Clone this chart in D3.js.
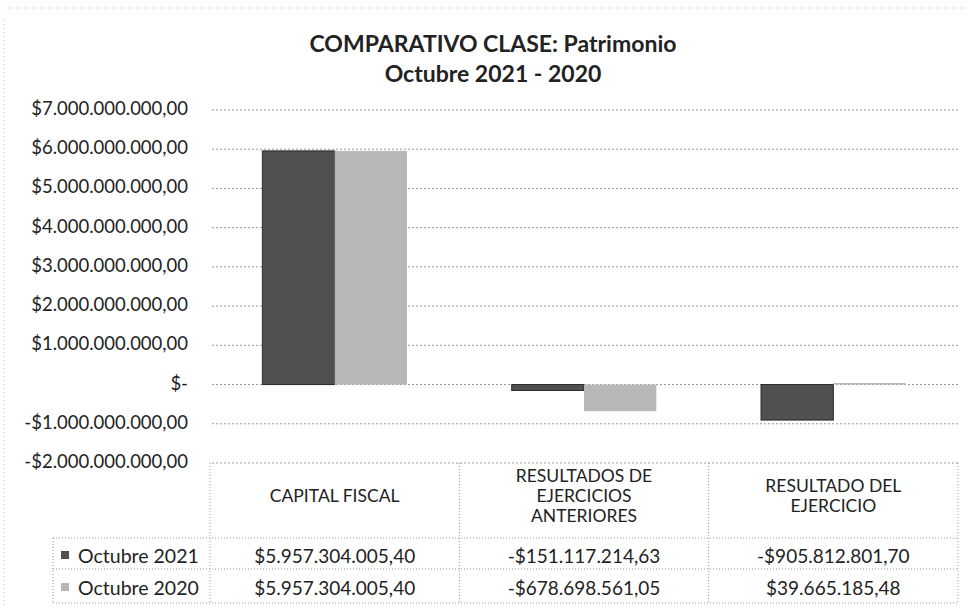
<!DOCTYPE html>
<html lang="es">
<head>
    <meta charset="UTF-8">
    <title>Comparativo clase: Patrimonio</title>
    <script src="https://d3js.org/d3.v7.min.js"></script>
    <style>
        body { margin: 0; background: #fff; }
        text { font-family: Lato, "Open Sans", sans-serif; fill: #222; }
    </style>
</head>
<body>
<svg id="chart"></svg>

<script>
    // Data
    let categories = ["CAPITAL FISCAL", "RESULTADOS DE\nEJERCICIOS\nANTERIORES", "RESULTADO DEL\nEJERCICIO"];
    let seriesNames = ["Octubre 2021", "Octubre 2020"];
    let values2021 = [5957304005.40, -151117214.63, -905812801.70];
    let values2020 = [5957304005.40, -678698561.05, 39665185.48];
    let yTicks = [7e9, 6e9, 5e9, 4e9, 3e9, 2e9, 1e9, 0, -1e9, -2e9];

    let width = 969, height = 610;
    let colours = ["#505050", "#b7b7b7"];
    let series = [values2021, values2020];

    let svg = d3.select("#chart")
        .attr("width", width)
        .attr("height", height);

    // Spanish style money format
    let es = d3.formatLocale({decimal: ",", thousands: ".", grouping: [3], currency: ["$", ""], minus: "-"});
    let money = es.format("$,.2f");
    function fmt(v) {
        return v === 0 ? "$-" : money(v);
    }

    // Scales
    let x0 = d3.scaleBand()
        .domain(categories)
        .range([210, 958])
        .paddingInner(0.42)
        .paddingOuter(0.21);

    let x1 = d3.scaleBand()
        .domain(d3.range(seriesNames.length))
        .range([0, x0.bandwidth()]);

    let y = d3.scaleLinear()
        .domain([-2e9, 7e9])
        .range([463, 110]);

    // Faint frame of the scan
    svg.append("line")
        .attr("x1", 4).attr("x2", 965).attr("y1", 8).attr("y2", 8)
        .attr("stroke", "#bbb").attr("stroke-dasharray", "1,3");
    svg.append("line")
        .attr("x1", 4).attr("x2", 4).attr("y1", 20).attr("y2", 605)
        .attr("stroke", "#bbb").attr("stroke-dasharray", "1,3");

    // Title
    svg.append("text")
        .attr("x", 493).attr("y", 43)
        .attr("text-anchor", "middle")
        .attr("dominant-baseline", "central")
        .style("font-size", "23px")
        .style("font-weight", "bold")
        .text("COMPARATIVO CLASE: Patrimonio");
    svg.append("text")
        .attr("x", 493).attr("y", 73)
        .attr("text-anchor", "middle")
        .attr("dominant-baseline", "central")
        .style("font-size", "23px")
        .style("font-weight", "bold")
        .text("Octubre 2021 - 2020");

    // Y axis with dotted grid lines
    let yAxis = d3.axisLeft(y)
        .tickValues(yTicks)
        .tickSize(0)
        .tickPadding(0)
        .tickFormat(fmt);

    let gy = svg.append("g")
        .attr("transform", "translate(188,-2)")
        .call(yAxis);
    gy.select(".domain").remove();
    gy.selectAll("text")
        .attr("font-family", null)
        .style("font-size", "18.5px")
        .attr("dy", "0.35em");

    svg.append("g")
        .selectAll("line")
        .data(yTicks)
        .enter().append("line")
        .attr("x1", 212).attr("x2", 960)
        .attr("y1", function (d) { return y(d); })
        .attr("y2", function (d) { return y(d); })
        .attr("stroke", "#999")
        .attr("stroke-width", 1)
        .attr("stroke-dasharray", "2,2");

    // Bars
    let groups = svg.append("g")
        .selectAll("g")
        .data(categories)
        .enter().append("g")
        .attr("transform", function (d) { return "translate(" + x0(d) + ",0)"; });

    groups.selectAll("rect")
        .data(function (d, i) {
            return series.map(function (s, j) { return {s: j, v: s[i]}; });
        })
        .enter().append("rect")
        .attr("x", function (d) { return x1(d.s); })
        .attr("width", x1.bandwidth())
        .attr("y", function (d) { return y(Math.max(0, d.v)); })
        .attr("height", function (d) { return Math.abs(y(d.v) - y(0)); })
        .attr("fill", function (d) { return colours[d.s]; })
        .attr("stroke", function (d) { return d.s === 0 ? "#2a2a2a" : "none"; })
        .attr("stroke-width", 1);

    // Data table under the chart
    let tableTop = 463, headBottom = 538, rowBottoms = [569, 603];
    let colEdges = [210].concat(categories.map(function (c) { return x0(c) - x0.step() * x0.paddingInner() / 2 + x0.step(); }));
    let table = svg.append("g")
        .attr("stroke", "#999")
        .attr("stroke-dasharray", "1,2");

    colEdges.forEach(function (cx) {
        table.append("line")
            .attr("x1", cx).attr("x2", cx)
            .attr("y1", tableTop).attr("y2", rowBottoms[1]);
    });
    table.append("line")
        .attr("x1", 53).attr("x2", 53)
        .attr("y1", headBottom).attr("y2", rowBottoms[1]);
    table.append("line")
        .attr("x1", 53).attr("x2", colEdges[3])
        .attr("y1", headBottom).attr("y2", headBottom);
    rowBottoms.forEach(function (ry) {
        table.append("line")
            .attr("x1", 53).attr("x2", colEdges[3])
            .attr("y1", ry).attr("y2", ry);
    });

    // Category headers
    categories.forEach(function (c) {
        let lines = c.split("\n");
        let cx = x0(c) + x0.bandwidth() / 2;
        lines.forEach(function (line, k) {
            svg.append("text")
                .attr("x", cx)
                .attr("y", 495 + (k - (lines.length - 1) / 2) * 20)
                .attr("text-anchor", "middle")
                .attr("dominant-baseline", "central")
                .style("font-size", "17.5px")
                .text(line);
        });
    });

    // Rows: legend key, name and values
    let rowMid = [555, 587];
    seriesNames.forEach(function (name, j) {
        svg.append("rect")
            .attr("x", 61).attr("y", rowMid[j] - 4)
            .attr("width", 8).attr("height", 8)
            .attr("fill", colours[j]);
        svg.append("text")
            .attr("x", 78).attr("y", rowMid[j])
            .attr("dominant-baseline", "central")
            .style("font-size", "19.5px")
            .text(name);
        series[j].forEach(function (v, i) {
            svg.append("text")
                .attr("x", x0(categories[i]) + x0.bandwidth() / 2)
                .attr("y", rowMid[j])
                .attr("text-anchor", "middle")
                .attr("dominant-baseline", "central")
                .style("font-size", "19px")
                .text(fmt(v));
        });
    });
</script>
</body>
</html>
